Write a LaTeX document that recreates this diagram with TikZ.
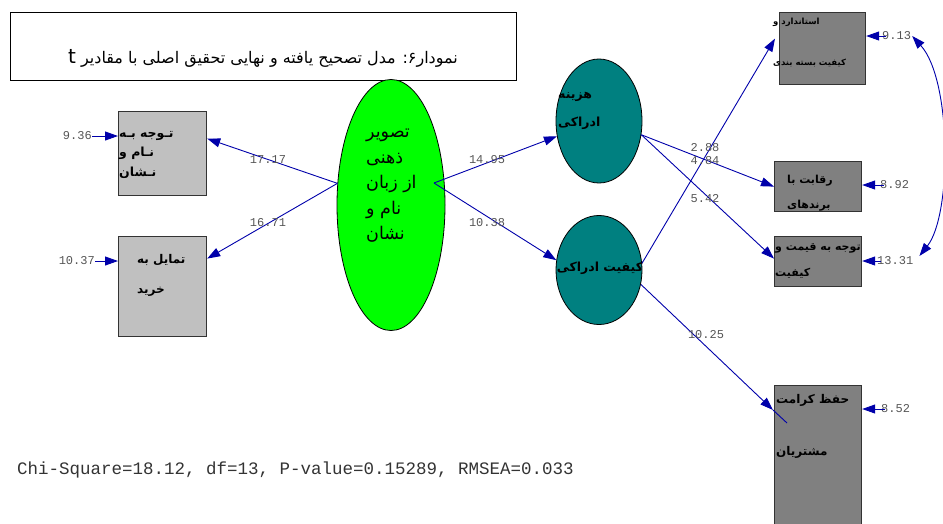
\documentclass[tikz,border=0pt]{standalone}
\usepackage{fontspec}
\usepackage{xcolor}
\usepackage{tikz}
\usetikzlibrary{arrows.meta, shapes}
\setmainfont{DejaVu Sans}
\newfontfamily\farsi[Script=Arabic]{DejaVu Sans}
\newfontfamily\estfont{Liberation Mono}
\TeXXeTstate=1
\definecolor{pathblue}{RGB}{0, 0, 170}
\definecolor{obslight}{RGB}{192, 192, 192}
\definecolor{obsdark}{RGB}{128, 128, 128}
\definecolor{latgreen}{RGB}{0, 255, 0}
\definecolor{latteal}{RGB}{0, 128, 128}
\definecolor{estgray}{RGB}{85, 85, 85}
\tikzset{
  obsbox/.style={draw=black!80, line width=1.2pt, fill=obsdark, anchor=north west, inner sep=0pt},
  latent/.style={ellipse, draw=black, line width=0.8pt, inner sep=0pt},
  effect/.style={pathblue, line width=0.9pt, -{Triangle[length=13pt, width=9pt]}},
  twoway/.style={pathblue, line width=0.9pt, {Triangle[length=13pt, width=9pt]}-{Triangle[length=13pt, width=9pt]}},
  estimate/.style={font=\estfont\fontsize{12}{12}\selectfont, text=estgray, inner sep=0pt},
  fatext/.style={align=left, anchor=north west, inner sep=0pt},
}

\begin{document}
\begin{tikzpicture}[x=1pt, y=-1pt]
  \useasboundingbox (0,0) rectangle (943,523);

  % title
  \node[draw, line width=1.2pt, minimum width=506pt, minimum height=68pt, anchor=north west, inner sep=0pt] (titlebox) at (10,12) {};
  \node[font=\farsi\fontsize{16}{16}\selectfont, inner sep=0pt] (title) at (263,58)
    {\beginR نمودار۶:  مدل تصحیح یافته و نهایی تحقیق اصلی با مقادیر {\fontsize{20}{20}\selectfont t}\endR};

  % observed variables
  \node[obsbox, fill=obslight, minimum width=88pt, minimum height=84pt] (nameBox) at (118,111) {};
  \node[obsbox, fill=obslight, minimum width=88pt, minimum height=100pt] (buyBox) at (118,236) {};
  \node[obsbox, minimum width=86pt, minimum height=72pt] (packBox) at (779,12) {};
  \node[obsbox, minimum width=87pt, minimum height=50pt] (rivalBox) at (774,161) {};
  \node[obsbox, minimum width=87pt, minimum height=50pt] (priceBox) at (774,236) {};
  \node[obsbox, minimum width=87pt, minimum height=150pt] (dignityBox) at (774,385) {};

  % latent variables
  \node[latent, fill=latgreen, minimum width=108pt, minimum height=251pt] (image) at (391,205) {};
  \node[latent, fill=latteal, minimum width=86pt, minimum height=124pt] (cost) at (599,121) {};
  \node[latent, fill=latteal, minimum width=86pt, minimum height=109pt] (quality) at (599,270) {};

  % texts
  \node[fatext, font=\farsi\bfseries\fontsize{12.5}{19.5}\selectfont] (nameText) at (119,131)
    {\beginR تـوجه بـه\endR\\ \beginR نـام و\endR\\ \beginR نـشان\endR};
  \node[fatext, font=\farsi\bfseries\fontsize{12}{30}\selectfont] (buyText) at (137,254)
    {\beginR تمایل به\endR\\ \beginR خرید\endR};
  \node[fatext, font=\farsi\fontsize{17.5}{25.5}\selectfont] (imageText) at (366,129)
    {\beginR تصویر\endR\\ \beginR ذهنی\endR\\ \beginR از زبان\endR\\ \beginR نام و\endR\\ \beginR نشان\endR};
  \node[fatext, font=\farsi\bfseries\fontsize{12.5}{28}\selectfont] (costText) at (558,92)
    {\beginR هزینه\endR\\ \beginR ادراکی\endR};
  \node[font=\farsi\bfseries\fontsize{12.5}{12.5}\selectfont, inner sep=0pt] (qualityText) at (600,268)
    {\beginR کیفیت ادراکی\endR};
  \node[fatext, font=\farsi\bfseries\fontsize{8.5}{41}\selectfont] (packText) at (773,18)
    {\beginR استاندارد و\endR\\ \beginR کیفیت بسته بندی\endR};
  \node[fatext, font=\farsi\bfseries\fontsize{11}{25}\selectfont] (rivalText) at (787,175)
    {\beginR رقابت با\endR\\ \beginR برندهای\endR};
  \node[fatext, font=\farsi\bfseries\fontsize{11}{26}\selectfont] (priceText) at (775,243)
    {\beginR توجه به قیمت و\endR\\ \beginR کیفیت\endR};
  \node[fatext, font=\farsi\bfseries\fontsize{12}{52}\selectfont] (dignityText) at (776,394)
    {\beginR حفظ کرامت\endR\\ \beginR مشتریان\endR};

  % error variances
  \node[estimate, anchor=east] (e1) at (92,136) {9.36};
  \node[estimate, anchor=east] (e2) at (95,261) {10.37};
  \node[estimate, anchor=west] (e3) at (882,36) {9.13};
  \node[estimate, anchor=west] (e4) at (880,185) {8.92};
  \node[estimate, anchor=west] (e5) at (877,261) {13.31};
  \node[estimate, anchor=west] (e6) at (881,409) {8.52};

  \draw[effect] (e1.east) -- (nameBox.west |- e1);
  \draw[effect] (e2.east) -- (buyBox.west |- e2);
  \draw[effect] ([xshift=4pt]e3.west) -- (packBox.east |- e3);
  \draw[effect] ([xshift=4pt]e4.west) -- (rivalBox.east |- e4);
  \draw[effect] ([xshift=4pt]e5.west) -- (priceBox.east |- e5);
  \draw[effect] ([xshift=4pt]e6.west) -- (dignityBox.east |- e6);
  \draw[twoway] ([xshift=1pt]e3.east) .. controls (952,80) and (952,215) .. ([xshift=6pt, yshift=5pt]e5.east);

  % structural paths
  \coordinate (imgR) at (434,183);
  \draw[effect] (image.158) -- ([yshift=15pt]nameBox.east);
  \draw[effect] (image.158) -- ([yshift=28pt]buyBox.east);
  \draw[effect] (imgR) -- (cost.200);
  \draw[effect] (imgR) -- (quality.167);
  \draw[effect] (cost.342) -- (rivalBox.west);
  \draw[effect] (cost.342) -- ([yshift=3pt]priceBox.west);
  \draw[effect] (quality.9) -- ([shift={(-4pt,10pt)}]packBox.west);
  \coordinate (dignityTip) at ([shift={(-1pt,-25pt)}]dignityBox.north west);
  \draw[effect] (quality.341) -- (dignityTip);
  \draw[pathblue, line width=0.9pt] (dignityTip) -- ++(14,13);

  % path estimates
  \node[estimate] (p1) at (268,160) {17.17};
  \node[estimate] (p2) at (268,223) {16.71};
  \node[estimate] (p3) at (487,160) {14.95};
  \node[estimate] (p4) at (487,223) {10.38};
  \node[estimate] (p5) at (705,148) {2.88};
  \node[estimate] (p6) at (705,161) {4.84};
  \node[estimate] (p7) at (705,199) {5.42};
  \node[estimate] (p8) at (706,335) {10.25};

  % fit
  \node[anchor=west, inner sep=0pt, font=\estfont\fontsize{17.5}{17.5}\selectfont, text=black!80] (fit) at (17,470)
    {Chi-Square=18.12, df=13, P-value=0.15289, RMSEA=0.033};
\end{tikzpicture}
\end{document}
